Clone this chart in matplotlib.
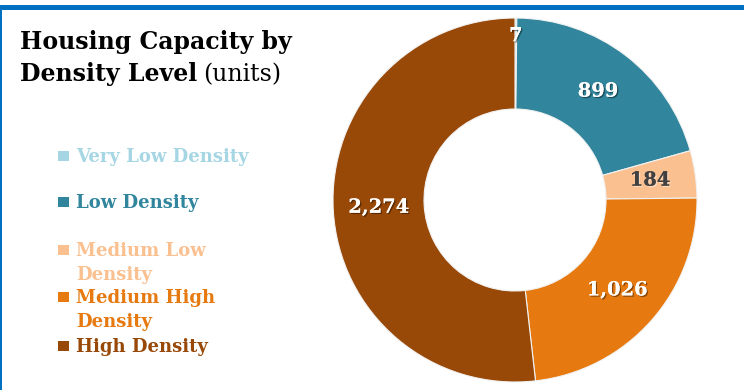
import numpy as np
import matplotlib
matplotlib.use("Agg")
import matplotlib.pyplot as plt
import matplotlib.patheffects as pe
from matplotlib.patches import Rectangle

categories = ["Very Low Density", "Low Density", "Medium Low\nDensity",
              "Medium High\nDensity", "High Density"]
units = [7, 899, 184, 1026, 2274]
colors = ["#A6D6E4", "#31859C", "#FAC090", "#E67A10", "#984807"]
label_colors = ["white", "white", "#404040", "white", "white"]

W, H = 744, 390
fig = plt.figure(figsize=(W / 100, H / 100), dpi=100)
serif = "DejaVu Serif"


def fx(x):
    return x / W


def fy(y):
    return (H - y) / H


# frame lines (top bar + thin left edge)
fig.patches.append(Rectangle((0, fy(9.5)), 1, 4.5 / H, transform=fig.transFigure,
                             facecolor="#0070C0", edgecolor="none"))
fig.patches.append(Rectangle((0, 0), 1.5 / W, fy(9), transform=fig.transFigure,
                             facecolor="#0070C0", edgecolor="none"))

# donut
cx, cy, R = 515, 200, 182
ax = fig.add_axes([fx(cx - R), fy(cy + R), 2 * R / W, 2 * R / H])
wedges, _ = ax.pie(units, colors=colors, startangle=90, counterclock=False,
                   radius=1, wedgeprops=dict(width=0.5, edgecolor="#F2F2F2", linewidth=0.8))
ax.set_xlim(-1, 1)
ax.set_ylim(-1, 1)
ax.set_aspect("equal")
ax.axis("off")

# data labels
total = sum(units)
cum = np.cumsum(units) - np.array(units) / 2
for i, v in enumerate(units):
    ang = np.deg2rad(90 - cum[i] / total * 360)
    r = 0.9 if v < 50 else 0.75
    shadow = "black" if label_colors[i] == "white" else "white"
    ax.text(r * np.cos(ang), r * np.sin(ang), f"{v:,}", ha="center", va="center",
            fontsize=14, fontweight="bold", family=serif, color=label_colors[i],
            path_effects=[pe.withSimplePatchShadow(offset=(1, -1),
                                                   shadow_rgbFace=shadow, alpha=0.4),
                          pe.Normal()])

# title
fig.text(fx(20), fy(48.5), "Housing Capacity by", fontsize=17, fontweight="bold",
         family=serif, va="baseline", ha="left")
t2 = fig.text(fx(20), fy(81), "Density Level", fontsize=17, fontweight="bold",
              family=serif, va="baseline", ha="left")
fig.canvas.draw()
bb = t2.get_window_extent()
fig.text(bb.x1 / W + fx(6), fy(81), "(units)", fontsize=17, family=serif,
         va="baseline", ha="left")

# legend
baselines = [162, 208.5, 256.5, 303, 352]
line_gap = 24
for name, col, base in zip(categories, colors, baselines):
    fig.patches.append(Rectangle((fx(58), fy(base - 1.5)), 11 / W, 10 / H,
                                 transform=fig.transFigure, facecolor=col,
                                 edgecolor="none"))
    for k, line in enumerate(name.split("\n")):
        fig.text(fx(76), fy(base + k * line_gap), line, fontsize=13,
                 fontweight="bold", family=serif, color=col, va="baseline", ha="left")

fig.savefig("out.png", dpi=100)
